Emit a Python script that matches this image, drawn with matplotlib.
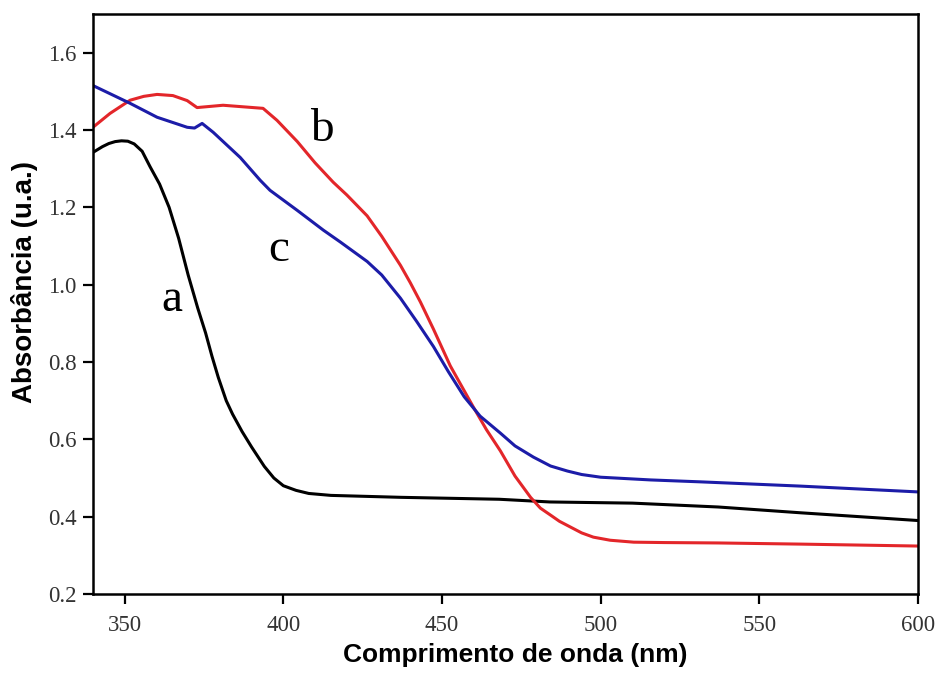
import numpy as np
import matplotlib.pyplot as plt

# Daten
wl_a = [340, 343, 345, 347, 349, 351, 353, 355.5, 358, 361, 364, 367, 370, 373, 375.5,
        377.5, 379.5, 382, 384, 387, 390, 394, 397, 400, 404, 408, 415, 437, 468, 484,
        510, 537, 563, 600]
abs_a = [1.342, 1.357, 1.365, 1.370, 1.372, 1.371, 1.364, 1.345, 1.305, 1.26, 1.20, 1.12,
         1.025, 0.94, 0.875, 0.815, 0.76, 0.70, 0.665, 0.62, 0.58, 0.53, 0.50, 0.48, 0.468,
         0.460, 0.455, 0.450, 0.445, 0.438, 0.435, 0.425, 0.41, 0.39]

wl_b = [340, 345.4, 351.7, 356, 360.2, 365.2, 369.7, 372.8, 381, 393.6, 398, 404.4, 410,
        415.7, 420, 426.4, 431, 436.9, 440, 443.2, 447.3, 452.6, 459.9, 464, 468.4, 473,
        477.9, 481, 484.2, 487, 490.5, 494, 497.7, 503, 510.4, 520, 536.9, 563, 600]
abs_b = [1.407, 1.443, 1.477, 1.487, 1.492, 1.489, 1.476, 1.458, 1.464, 1.456, 1.425, 1.37,
         1.315, 1.265, 1.232, 1.178, 1.125, 1.05, 1.005, 0.955, 0.885, 0.79, 0.683, 0.625,
         0.57, 0.505, 0.450, 0.422, 0.404, 0.388, 0.373, 0.358, 0.347, 0.339, 0.334, 0.333,
         0.332, 0.329, 0.324]

wl_c = [340, 351.7, 360.2, 369.7, 372, 374.4, 377.9, 386.4, 392.7, 395.8, 404.4, 412.6,
        418, 426.4, 431, 436.9, 442, 447.3, 452, 457, 462, 468.4, 473, 478.8, 484.2, 489.5,
        494, 500, 515.7, 531.5, 563, 600]
abs_c = [1.515, 1.469, 1.433, 1.407, 1.405, 1.417, 1.394, 1.329, 1.27, 1.244, 1.192, 1.141,
         1.11, 1.06, 1.025, 0.965, 0.905, 0.84, 0.775, 0.71, 0.66, 0.616, 0.583, 0.554,
         0.531, 0.518, 0.509, 0.502, 0.495, 0.49, 0.479, 0.464]

# Beschriftungen der Kurven
labels = ['a', 'b', 'c']
label_x = [365, 412, 398.5]
label_y = [0.96, 1.40, 1.09]

fig = plt.figure(figsize=(9.38, 6.73), dpi=100)
ax = fig.add_axes([0.0991, 0.1174, 0.8796, 0.8618])

ax.plot(wl_a, abs_a, color='black', linewidth=2.2)
ax.plot(wl_b, abs_b, color='#e3262a', linewidth=2.2)
ax.plot(wl_c, abs_c, color='#1c1ca8', linewidth=2.2)

for t, xv, yv in zip(labels, label_x, label_y):
    ax.text(xv, yv, t, fontsize=34, family='Liberation Serif', ha='center', va='center')

ax.set_xlim(340, 600)
ax.set_ylim(0.2, 1.7)
ax.set_xticks([350, 400, 450, 500, 550, 600])
ax.set_yticks([0.2, 0.4, 0.6, 0.8, 1.0, 1.2, 1.4, 1.6])
ax.set_yticklabels(['0.2', '0.4', '0.6', '0.8', '1.0', '1.2', '1.4', '1.6'])

for sp in ax.spines.values():
    sp.set_linewidth(1.8)
ax.tick_params(direction='out', length=7, width=1.6, labelsize=16.5)
ax.tick_params(axis='x', pad=8)
ax.tick_params(axis='y', pad=5)
for lab in ax.get_xticklabels() + ax.get_yticklabels():
    lab.set_family('Liberation Serif')
    lab.set_color('#333333')

ax.set_xlabel('Comprimento de onda (nm)', fontsize=19, fontweight='bold',
              family='Liberation Sans')
ax.set_ylabel('Absorbância (u.a.)', fontsize=20, fontweight='bold',
              family='Liberation Sans')
ax.xaxis.set_label_coords(0.512, -0.085)
ax.yaxis.set_label_coords(-0.067, 0.538)

plt.savefig('out.png', dpi=100)
